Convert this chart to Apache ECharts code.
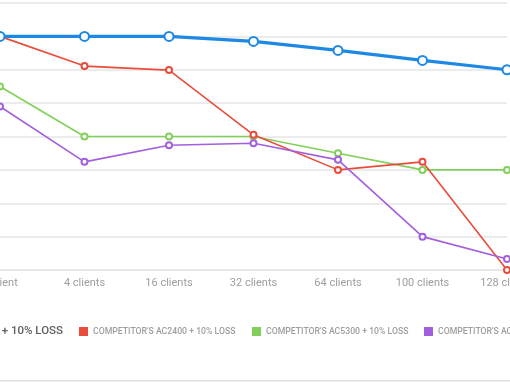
<!DOCTYPE html>
<html><head><meta charset="utf-8">
<script src="https://cdn.jsdelivr.net/npm/echarts@6/dist/echarts.min.js"></script>
<style>html,body{margin:0;padding:0;overflow:hidden;width:510px;height:382px;background:#fff}
#c{position:absolute;left:-60px;top:0;width:720px;height:382px}</style>
</head><body><div id="c"></div>
<script>
const categories = ['1 client','4 clients','16 clients','32 clients','64 clients','100 clients','128 clients'];
const seriesNames = ['ORBI AC3000 + 10% LOSS',"COMPETITOR'S AC2400 + 10% LOSS","COMPETITOR'S AC5300 + 10% LOSS","COMPETITOR'S AC3000 + 10% LOSS"];
const ours = [70, 70, 70, 68.5, 65.8, 62.8, 60];
const ac2400 = [70, 61.1, 59.9, 40.5, 30, 32.4, 0];
const ac5300 = [55, 40, 40, 40, 35, 30, 30];
const ac3000 = [49, 32.4, 37.4, 38, 33, 10, 3.3];
const colors = ['#1e88e5','#ea4c3c','#82d05a','#a35fdf'];

const chart = echarts.init(document.getElementById('c'));
function thin(name, data, color, z){
  return {name, type:'line', data, z, symbol:'emptyCircle', symbolSize:6,
    lineStyle:{width:1.6,color}, itemStyle:{color, borderWidth:1.6}};
}
const legendBase = {orient:'horizontal', padding:0, itemWidth:9, itemHeight:9, icon:'rect', top:327, itemGap:4,
  textStyle:{fontFamily:'Roboto', fontSize:8.7, color:'#9e9e9e', fontWeight:500}};
chart.setOption({
  animation:false,
  color: colors,
  grid:{left:60, right:153, top:3, bottom:112},
  xAxis:{type:'category', data:categories, boundaryGap:false,
    axisLine:{show:true, lineStyle:{color:'#e6e6e6', width:1.5}}, axisTick:{show:false},
    axisLabel:{color:'#9e9e9e', fontFamily:'Roboto', fontSize:11, margin:8}},
  yAxis:{type:'value', min:0, max:80, interval:10, axisLabel:{show:false}, axisLine:{show:false}, axisTick:{show:false},
    splitLine:{lineStyle:{color:'#e6e6e6', width:1.5}}},
  legend:[
    Object.assign({}, legendBase, {data:[seriesNames[0]], right:597, top:325,
      textStyle:{fontFamily:'Roboto', fontSize:11.5, color:'#5f5f5f', fontWeight:500}}),
    Object.assign({}, legendBase, {data:[seriesNames[1]], left:139}),
    Object.assign({}, legendBase, {data:[seriesNames[2]], left:312}),
    Object.assign({}, legendBase, {data:[seriesNames[3]], left:484})
  ],
  graphic:[{type:'rect', shape:{x:0, y:380, width:720, height:1.5}, style:{fill:'#e0e0e0'}, silent:true}],
  series:[
    thin(seriesNames[1], ac2400, colors[1], 3),
    thin(seriesNames[2], ac5300, colors[2], 2),
    thin(seriesNames[3], ac3000, colors[3], 4),
    {name:seriesNames[0], type:'line', data:ours, z:5, symbol:'emptyCircle', symbolSize:9,
      lineStyle:{width:3.2, color:colors[0]}, itemStyle:{color:colors[0], borderWidth:2}}
  ]
});
</script></body></html>
